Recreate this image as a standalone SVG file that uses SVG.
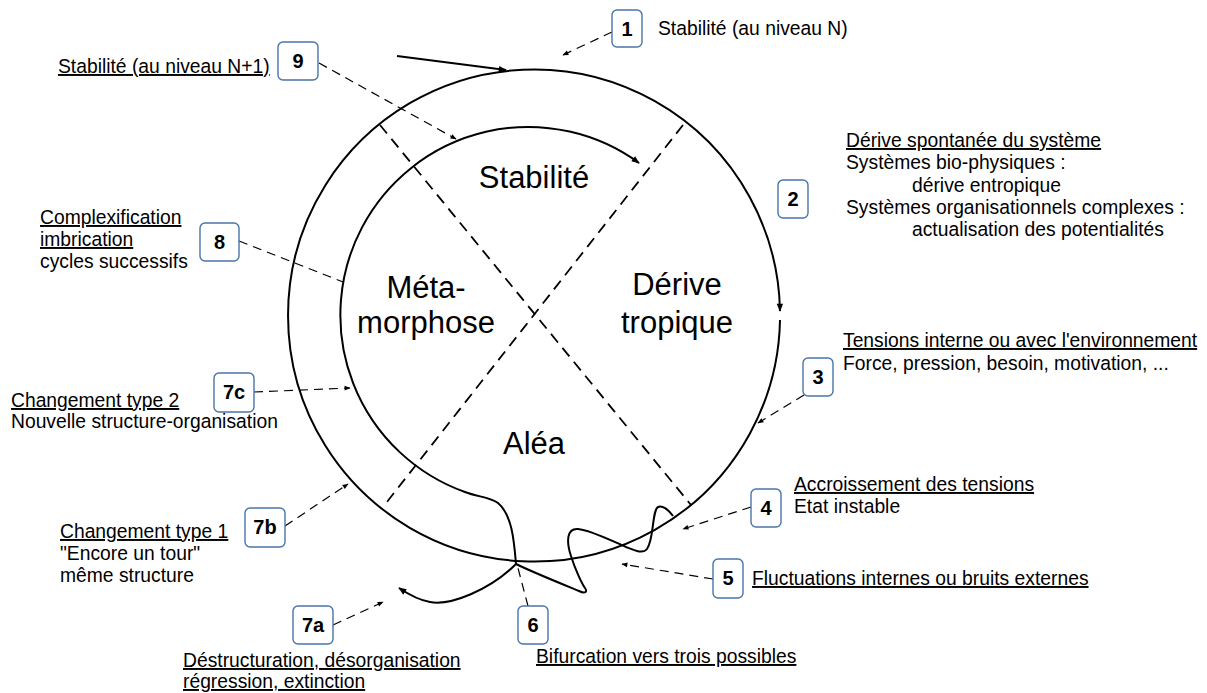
<svg xmlns="http://www.w3.org/2000/svg" width="1207" height="693" viewBox="0 0 1207 693">
<style>
text{font-family:"Liberation Sans",Arial,sans-serif;fill:#000}
.t{font-size:19.3px}
.u{text-decoration:underline}
.big{font-size:31px;text-anchor:middle}
.num{font-size:20px;font-weight:bold;text-anchor:middle}
.box{fill:#fff;stroke:#4a74a8;stroke-width:1.4}
.solid{fill:none;stroke:#000;stroke-width:2}
.dash{fill:none;stroke:#000;stroke-width:1.2;stroke-dasharray:9 6}
.diag{fill:none;stroke:#000;stroke-width:1.8;stroke-dasharray:11 7}
</style>
<defs>
<marker id="ah" viewBox="0 0 10 10" refX="9" refY="5" markerWidth="9" markerHeight="8" markerUnits="userSpaceOnUse" orient="auto"><path d="M0,1 L10,5 L0,9 z"/></marker>
<marker id="ad" viewBox="0 0 10 10" refX="9" refY="5" markerWidth="7" markerHeight="6" markerUnits="userSpaceOnUse" orient="auto"><path d="M0,1 L10,5 L0,9 z"/></marker>
</defs>
<rect width="1207" height="693" fill="#fff"/>

<g id="connectors">
<path class="diag" d="M380,125 L691,505"/>
<path class="diag" d="M683,125 L383,507"/>
<path class="solid" d="M780,320 A246,246 0 1,1 780,311" marker-end="url(#ah)"/>
<path class="solid" d="M397,56 L506,70" marker-end="url(#ah)"/>
<path class="solid" d="M673,516 C668,509 662,505 658,507 C652,510 654,540 647,549 C643,554 636,551 626,547 C610,540 590,530 578,529 C567,528 566,541 571,556 C575,569 582,584 585,588 C588,592 585,594 579,591 C562,584 530,571 516,564"/>
<path class="solid" d="M516,564 C514,540 512,515 498,503 C490,497 478,497 465,492 A188,188 0 1,1 639,163" marker-end="url(#ah)"/>
<path class="solid" d="M516,564 C490,590 450,606 430,602 C418,600 408,594 399,588" marker-end="url(#ah)"/>
<path class="dash" d="M612,32 L563,55" marker-end="url(#ad)"/>
<path class="dash" d="M319,63 L456,139" marker-end="url(#ad)"/>
<path class="dash" d="M804,395 L758,423" marker-end="url(#ad)"/>
<path class="dash" d="M751,507 L683,529" marker-end="url(#ad)"/>
<path class="dash" d="M713,579 L622,564" marker-end="url(#ad)"/>
<path class="dash" d="M528,606 L518,568"/>
<path class="dash" d="M333,625 L383,602" marker-end="url(#ad)"/>
<path class="dash" d="M285,526 L348,484" marker-end="url(#ad)"/>
<path class="dash" d="M254,392 L350,388" marker-end="url(#ad)"/>
<path class="dash" d="M239,241 L343,282"/>
</g>

<g id="regions">
<text class="big" x="534" y="188">Stabilité</text>
<text class="big" x="426" y="298">Méta-</text>
<text class="big" x="426" y="333">morphose</text>
<text class="big" x="677" y="295">Dérive</text>
<text class="big" x="677" y="333">tropique</text>
<text class="big" x="534" y="454">Aléa</text>
</g>

<g id="n1"><rect class="box" x="612" y="10" width="30" height="37" rx="5"/><text class="num" x="627" y="35.5">1</text>
<text class="t" x="658" y="35">Stabilité (au niveau N)</text></g>

<g id="n2"><rect class="box" x="778" y="180" width="30" height="38" rx="5"/><text class="num" x="793" y="206">2</text>
<text class="t u" x="846" y="147">Dérive spontanée du système</text>
<text class="t" x="846" y="169">Systèmes bio-physiques :</text>
<text class="t" x="912" y="191.5">dérive entropique</text>
<text class="t" x="846" y="214">Systèmes organisationnels complexes :</text>
<text class="t" x="912" y="236">actualisation des potentialités</text></g>

<g id="n3"><rect class="box" x="803" y="358" width="30" height="38" rx="5"/><text class="num" x="818" y="384">3</text>
<text class="t u" x="843" y="347">Tensions interne ou avec l'environnement</text>
<text class="t" x="843" y="370">Force, pression, besoin, motivation, ...</text></g>

<g id="n4"><rect class="box" x="751" y="489" width="30" height="38" rx="5"/><text class="num" x="766" y="515">4</text>
<text class="t u" x="794" y="491">Accroissement des tensions</text>
<text class="t" x="794" y="512.5">Etat instable</text></g>

<g id="n5"><rect class="box" x="713" y="559" width="30" height="39" rx="5"/><text class="num" x="728" y="585">5</text>
<text class="t u" x="752" y="585">Fluctuations internes ou bruits externes</text></g>

<g id="n6"><rect class="box" x="518" y="606" width="30" height="38" rx="5"/><text class="num" x="533" y="632">6</text>
<text class="t u" x="536" y="663">Bifurcation vers trois possibles</text></g>

<g id="n7a"><rect class="box" x="293" y="606" width="40" height="38" rx="5"/><text class="num" x="313" y="632">7a</text>
<text class="t u" x="183" y="667">Déstructuration, désorganisation</text>
<text class="t u" x="183" y="688">régression, extinction</text></g>

<g id="n7b"><rect class="box" x="245" y="508" width="40" height="39" rx="5"/><text class="num" x="265" y="534">7b</text>
<text class="t u" x="60" y="538">Changement type 1</text>
<text class="t" x="60" y="560">"Encore un tour"</text>
<text class="t" x="60" y="582">même structure</text></g>

<g id="n7c"><rect class="box" x="214" y="373" width="40" height="39" rx="5"/><text class="num" x="234" y="399">7c</text>
<text class="t u" x="11" y="407">Changement type 2</text>
<text class="t" x="11" y="428">Nouvelle structure-organisation</text></g>

<g id="n8"><rect class="box" x="200" y="223" width="39" height="38" rx="5"/><text class="num" x="219.5" y="249">8</text>
<text class="t u" x="40" y="224">Complexification</text>
<text class="t u" x="40" y="246">imbrication</text>
<text class="t" x="40" y="268">cycles successifs</text></g>

<g id="n9"><rect class="box" x="278" y="42" width="40" height="38" rx="5"/><text class="num" x="298" y="68">9</text>
<text class="t u" x="58" y="73">Stabilité (au niveau N+1)</text></g>
</svg>
